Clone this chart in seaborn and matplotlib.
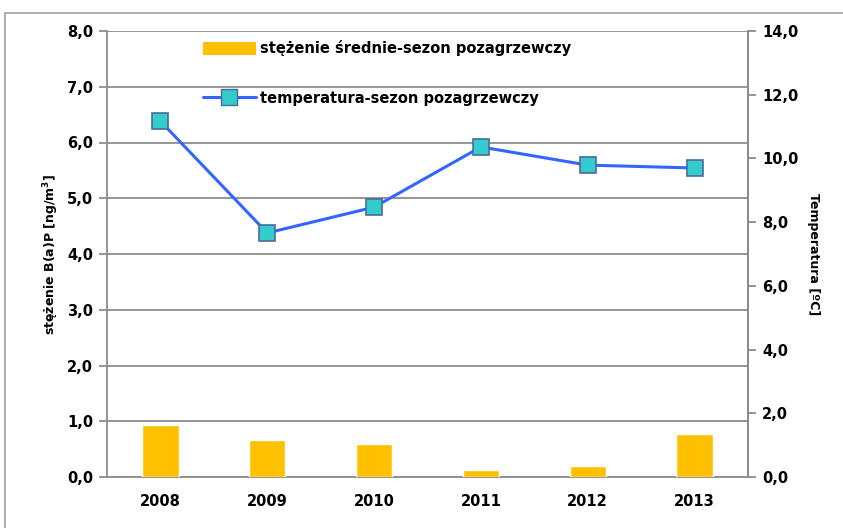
import numpy as np
import pandas as pd
import matplotlib
matplotlib.use("Agg")
import matplotlib.pyplot as plt
import seaborn as sns
from matplotlib.lines import Line2D
from matplotlib.patches import Patch
from matplotlib.ticker import FuncFormatter, MultipleLocator

# data
years = ["2008", "2009", "2010", "2011", "2012", "2013"]
stezenie = [0.93, 0.66, 0.60, 0.13, 0.20, 0.77]
temperatura = [11.17, 7.66, 8.47, 10.36, 9.79, 9.70]

df = pd.DataFrame({"rok": years, "stezenie": stezenie, "temp": temperatura})

sns.set_style("white")
plt.rcParams["font.family"] = ["DejaVu Sans"]
plt.rcParams["font.weight"] = "bold"
plt.rcParams["text.color"] = "black"
plt.rcParams["axes.labelcolor"] = "black"
plt.rcParams["xtick.labelcolor"] = "black"
plt.rcParams["ytick.labelcolor"] = "black"

fig = plt.figure(figsize=(8.43, 5.28), dpi=100)
ax = fig.add_axes([107 / 843, 51 / 528, 641 / 843, 446 / 528])

grid_c = "#8c8c8c"
sns.barplot(data=df, x="rok", y="stezenie", color="#FFC000", width=0.34,
            saturation=1, ax=ax, zorder=3)
ax.set_ylim(0, 8)
ax.set_xlim(-0.5, 5.5)
ax.yaxis.set_major_locator(MultipleLocator(1))
ax.yaxis.grid(True, color=grid_c, linewidth=1.3, zorder=0)
ax.set_axisbelow(True)
comma = FuncFormatter(lambda v, p: f"{v:.1f}".replace(".", ","))
ax.yaxis.set_major_formatter(comma)
ax.set_xlabel("")
ax.set_ylabel("stężenie B(a)P [ng/m$^3$]", fontsize=9, fontweight="bold", labelpad=4)

# category boundary ticks on x axis
ax.set_xticks(np.arange(len(years)))
ax.set_xticklabels(years)
ax.set_xticks(np.arange(-0.5, len(years)), minor=True)
ax.tick_params(axis="x", which="major", length=0, pad=12, labelsize=10.5)
ax.tick_params(axis="x", which="minor", length=6, width=1.3, color=grid_c, direction="out")
ax.tick_params(axis="y", length=6, width=1.3, color=grid_c, labelsize=10.5, pad=4, left=True)

ax.spines["top"].set_visible(False)
for s in ["left", "bottom", "right"]:
    ax.spines[s].set_color(grid_c)
    ax.spines[s].set_linewidth(1.3)

ax2 = ax.twinx()
ax2.plot(np.arange(len(years)), df["temp"], color="#3366FF", linewidth=2.2,
         marker="s", markersize=11, markerfacecolor="#33CCCC",
         markeredgecolor="#4D6A9C", markeredgewidth=1.2, zorder=4)
ax2.set_ylim(0, 14)
ax2.yaxis.set_major_locator(MultipleLocator(2))
ax2.yaxis.set_major_formatter(comma)
ax2.tick_params(axis="y", length=6, width=1.3, color=grid_c, labelsize=10.5, pad=4, right=True)
ax2.set_ylabel("Temperatura [ºC]", rotation=270, fontsize=9, fontweight="bold", labelpad=16)
for s in ax2.spines.values():
    s.set_visible(False)
ax2.spines["right"].set_visible(True)
ax2.spines["right"].set_color(grid_c)
ax2.spines["right"].set_linewidth(1.3)

handles = [
    Patch(facecolor="#FFC000", edgecolor="none", label="stężenie średnie-sezon pozagrzewczy"),
    Line2D([0], [0], color="#3366FF", linewidth=2.2, marker="s", markersize=11,
           markerfacecolor="#33CCCC", markeredgecolor="#4D6A9C",
           label="temperatura-sezon pozagrzewczy"),
]
fig.legend(handles=handles, loc="upper left", bbox_to_anchor=(190 / 843, 1 - 27 / 528),
           frameon=False, handlelength=3.6, handleheight=1.0, labelspacing=2.4,
           handletextpad=0.3, prop={"size": 10.5, "weight": "bold"})

# outer chart border
fig.add_artist(Line2D([5 / 843, 5 / 843], [0, 1 - 13 / 528], color="#a0a0a0", linewidth=1.2))
fig.add_artist(Line2D([5 / 843, 1], [1 - 13 / 528, 1 - 13 / 528], color="#a0a0a0", linewidth=1.2))

fig.savefig("out.png", dpi=100)
